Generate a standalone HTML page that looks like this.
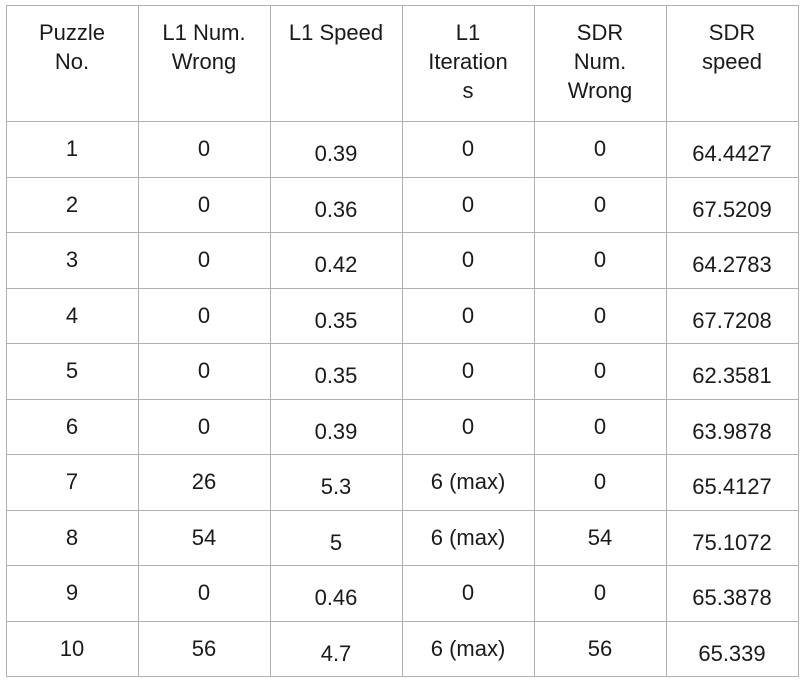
<!DOCTYPE html>
<html><head><meta charset="utf-8">
<style>
html,body{margin:0;padding:0;background:#fff;width:804px;height:682px;overflow:hidden}
#t{position:absolute;left:0;top:0;width:804px;height:682px;font-family:"Liberation Sans",sans-serif;color:#1a1a1a}
.vl{position:absolute;width:1px;background:#b0b0b0}
.hl{position:absolute;height:1px;background:#b0b0b0}
.c{position:absolute;text-align:center;font-size:22px;line-height:29px;white-space:nowrap}
</style></head><body>
<div id="t"></div>
<script>
const headers=[["Puzzle","No."],["L1 Num.","Wrong"],["L1 Speed"],["L1","Iteration","s"],["SDR","Num.","Wrong"],["SDR","speed"]];
const puzzleNo=["1","2","3","4","5","6","7","8","9","10"];
const l1Wrong=["0","0","0","0","0","0","26","54","0","56"];
const l1Speed=["0.39","0.36","0.42","0.35","0.35","0.39","5.3","5","0.46","4.7"];
const l1Iter=["0","0","0","0","0","0","6 (max)","6 (max)","0","6 (max)"];
const sdrWrong=["0","0","0","0","0","0","0","54","0","56"];
const sdrSpeed=["64.4427","67.5209","64.2783","67.7208","62.3581","63.9878","65.4127","75.1072","65.3878","65.339"];
const cols=[puzzleNo,l1Wrong,l1Speed,l1Iter,sdrWrong,sdrSpeed];
const colNames=["puzzle-no","l1-num-wrong","l1-speed","l1-iterations","sdr-num-wrong","sdr-speed"];
const xs=[6,138,270,402,534,666,798];
const top0=5,headBottom=121,rowH=55.5;
const t=document.getElementById('t');
for(let i=0;i<xs.length;i++){
  const v=document.createElement('div');v.className='vl';
  
  
  v.style.left=xs[i]+'px';v.style.top=top0+'px';v.style.height=(headBottom+rowH*10-top0)+'px';t.appendChild(v);
}
for(let r=0;r<=11;r++){
  const y=r===0?top0:headBottom+rowH*(r-1);
  const h=document.createElement('div');h.className='hl';
  
  
  h.style.left=xs[0]+'px';h.style.width=(xs[6]-xs[0]+1)+'px';h.style.top=Math.round(y)+'px';t.appendChild(h);
}
headers.forEach((lines,i)=>{
  const d=document.createElement('div');d.className='c';
  
  
  d.style.left=xs[i]+'px';d.style.width=(xs[i+1]-xs[i])+'px';d.style.top='18px';
  d.innerHTML=lines.join('<br>');t.appendChild(d);
});
cols.forEach((arr,i)=>{
  const off=(i===2||i===5)?18:13;
  arr.forEach((val,r)=>{
    const d=document.createElement('div');d.className='c';
    
    
    d.style.left=xs[i]+'px';d.style.width=(xs[i+1]-xs[i])+'px';
    d.style.top=Math.round(headBottom+rowH*r+off)+'px';
    d.textContent=val;t.appendChild(d);
  });
});
</script>
</body></html>
